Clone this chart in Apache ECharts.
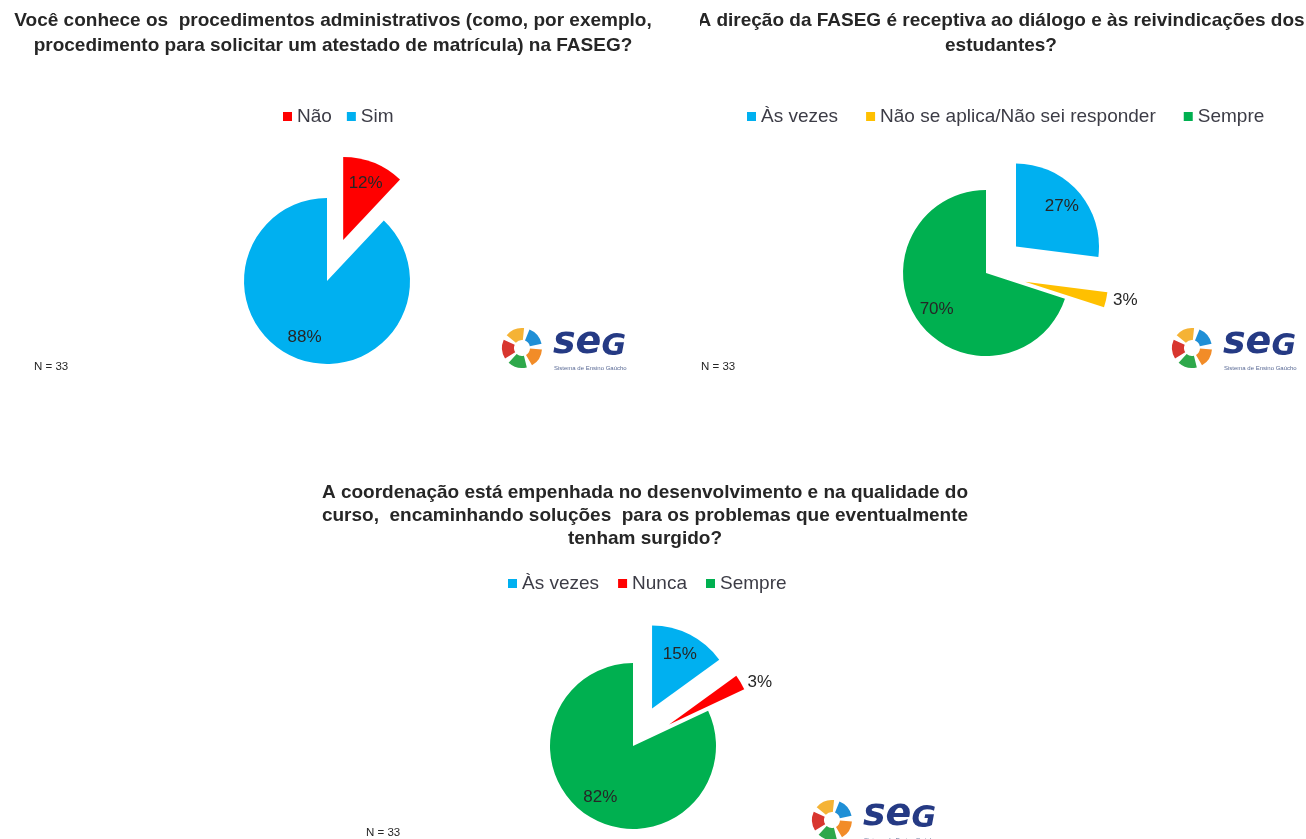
<!DOCTYPE html>
<html>
<head>
<meta charset="utf-8">
<script src="https://cdn.jsdelivr.net/npm/echarts@6/dist/echarts.min.js"></script>
<style>
  html, body { margin: 0; padding: 0; background: #fff; width: 1306px; height: 839px; overflow: hidden; }
  .panel { position: absolute; }
</style>
</head>
<body>
<div id="q1" class="panel" style="left:0;top:0;width:666px;height:420px"></div>
<div id="q2" class="panel" style="left:700px;top:0;width:606px;height:420px"></div>
<div id="q3" class="panel" style="left:300px;top:460px;width:690px;height:379px"></div>
<script>
// Survey answers (percent of respondents, N = 33)
const q1Title = 'Você conhece os  procedimentos administrativos (como, por exemplo,\nprocedimento para solicitar um atestado de matrícula) na FASEG?';
const q1Categories = ['Não', 'Sim'];
const q1Values = [12, 88];
const q1Exploded = [true, false];
const q1Outside = [false, false];

const q2Title = 'A direção da FASEG é receptiva ao diálogo e às reivindicações dos\nestudantes?';
const q2Categories = ['Às vezes', 'Não se aplica/Não sei responder', 'Sempre'];
const q2Values = [27, 3, 70];
const q2Exploded = [true, true, false];
const q2Outside = [false, true, false];

const q3Title = 'A coordenação está empenhada no desenvolvimento e na qualidade do\ncurso,  encaminhando soluções  para os problemas que eventualmente\ntenham surgido?';
const q3Categories = ['Às vezes', 'Nunca', 'Sempre'];
const q3Values = [15, 3, 82];
const q3Exploded = [true, true, false];
const q3Outside = [false, true, false];

const sampleNote = 'N = 33';

const COLORS = {
  'Não': '#FF0000',
  'Sim': '#00B0F0',
  'Às vezes': '#00B0F0',
  'Não se aplica/Não sei responder': '#FFC000',
  'Sempre': '#00B050',
  'Nunca': '#FF0000'
};

const BODY_FONT = '"Liberation Sans", Arial, sans-serif';
const TEXT_DARK = '#262626';

// SEG logo: five-colour pinwheel plus wordmark
function segLogo(cx, cy) {
  const petalColors = ['#F5B335', '#1F8FD6', '#F28C28', '#2EA84B', '#D8362F'];
  const petalAngles = [-112, -40, 32, 104, 176];
  const children = petalAngles.map((a, i) => ({
    type: 'sector',
    shape: {
      cx: 0, cy: 0, r0: 8, r: 20,
      startAngle: (a - 28) * Math.PI / 180,
      endAngle: (a + 28) * Math.PI / 180
    },
    style: { fill: petalColors[i] }
  }));
  children.push({
    type: 'text', x: 31, y: 14,
    style: {
      text: '{a|se}{b|G}',
      fill: '#253A84',
      verticalAlign: 'bottom',
      rich: {
        a: { fontSize: 38, fontWeight: 'bold', fontStyle: 'italic', fontFamily: 'DejaVu Sans', fill: '#253A84', verticalAlign: 'bottom' },
        b: { fontSize: 30, fontWeight: 'bold', fontStyle: 'italic', fontFamily: 'DejaVu Sans', fill: '#253A84', verticalAlign: 'bottom' }
      }
    }
  });
  children.push({
    type: 'text', x: 32, y: 17,
    style: { text: 'Sistema de Ensino Gaúcho', fontSize: 6, fontFamily: BODY_FONT, fill: '#5A6A95' }
  });
  return { type: 'group', x: cx, y: cy, silent: true, children };
}

function pieSeries(categories, values, exploded, outside, center, offset) {
  const base = categories.map((name, i) => ({
    name, value: values[i], selected: exploded[i],
    itemStyle: { color: COLORS[name] }
  }));
  const labelled = categories.map((name, i) => ({
    name, value: values[i], selected: exploded[i],
    itemStyle: { color: 'rgba(0,0,0,0)' },
    label: outside[i] ? { position: 'outside' } : { position: 'inside' },
    labelLine: { show: false, length: 1, length2: 1 }
  }));
  const common = {
    type: 'pie', center, startAngle: 90, clockwise: true,
    selectedMode: 'multiple', selectedOffset: offset,
    emphasis: { disabled: true }, silent: true, animation: false,
    avoidLabelOverlap: false
  };
  return [
    Object.assign({}, common, {
      radius: 83, data: base,
      label: { show: false }, labelLine: { show: false }
    }),
    // transparent ring that only carries the percentage labels
    Object.assign({}, common, {
      radius: [33, 83], data: labelled,
      label: {
        show: true, formatter: '{c}%', color: TEXT_DARK,
        fontFamily: BODY_FONT, fontSize: 17
      },
      select: { itemStyle: { color: 'rgba(0,0,0,0)' } }
    })
  ];
}

function buildOption(cfg) {
  return {
    animation: false,
    legend: {
      data: cfg.categories, left: cfg.legendLeft, top: cfg.legendTop, padding: 0,
      icon: 'rect', itemWidth: 9, itemHeight: 9, itemGap: cfg.legendGap,
      selectedMode: false,
      textStyle: { fontFamily: BODY_FONT, fontSize: 19, color: '#3C3C46', padding: [0, 0, 0, 0] }
    },
    graphic: [
      {
        type: 'text', x: cfg.titleX, y: cfg.titleY, silent: true,
        style: {
          text: cfg.title, align: 'center', verticalAlign: 'top',
          fontFamily: BODY_FONT, fontWeight: 'bold', fontSize: 19,
          lineHeight: cfg.titleLineHeight, fill: TEXT_DARK
        }
      },
      {
        type: 'text', x: cfg.noteX, y: cfg.noteY, silent: true,
        style: { text: sampleNote, fontSize: 11.5, fontFamily: BODY_FONT, fill: TEXT_DARK, verticalAlign: 'middle' }
      },
      segLogo(cfg.logo[0], cfg.logo[1])
    ],
    series: pieSeries(cfg.categories, cfg.values, cfg.exploded, cfg.outside, cfg.center, cfg.offset)
  };
}

echarts.init(document.getElementById('q1')).setOption(buildOption({
  title: q1Title, titleX: 333, titleY: 8, titleLineHeight: 25,
  categories: q1Categories, values: q1Values, exploded: q1Exploded, outside: q1Outside,
  legendLeft: 283, legendTop: 107, legendGap: 15,
  center: [327, 281], offset: 44,
  noteX: 34, noteY: 367, logo: [522, 348]
}));

echarts.init(document.getElementById('q2')).setOption(buildOption({
  title: q2Title, titleX: 301, titleY: 8, titleLineHeight: 25,
  categories: q2Categories, values: q2Values, exploded: q2Exploded, outside: q2Outside,
  legendLeft: 47, legendTop: 107, legendGap: 28,
  center: [286, 273], offset: 40,
  noteX: 1, noteY: 367, logo: [492, 348]
}));

echarts.init(document.getElementById('q3')).setOption(buildOption({
  title: q3Title, titleX: 345, titleY: 21, titleLineHeight: 23,
  categories: q3Categories, values: q3Values, exploded: q3Exploded, outside: q3Outside,
  legendLeft: 208, legendTop: 114, legendGap: 19,
  center: [333, 286], offset: 42,
  noteX: 66, noteY: 373, logo: [532, 360]
}));
</script>
</body>
</html>
